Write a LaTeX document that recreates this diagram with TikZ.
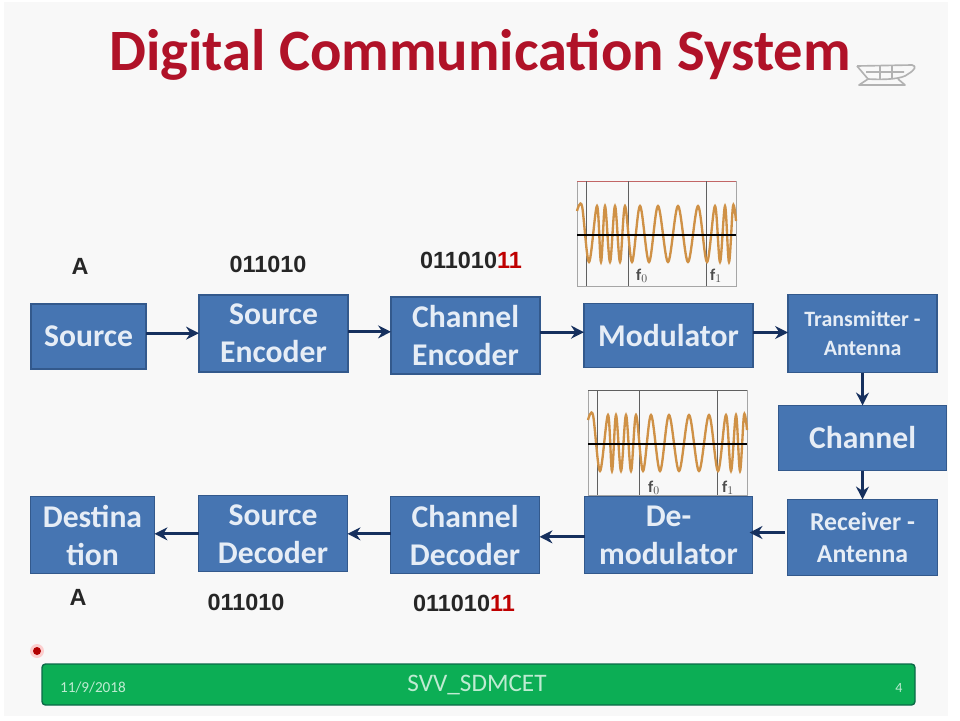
\documentclass[tikz,border=0pt]{standalone}
\usepackage{fontspec}
\setmainfont{Carlito}
\newfontfamily\digitfont{Liberation Sans}
\usetikzlibrary{arrows.meta, positioning}

\definecolor{boxblue}{HTML}{4675B2}
\definecolor{boxedge}{HTML}{33598C}
\definecolor{boxtext}{HTML}{E6EDF6}
\definecolor{arrownavy}{HTML}{16305E}
\definecolor{titlered}{HTML}{B01228}
\definecolor{barcolor}{HTML}{0CAE55}
\definecolor{baredge}{HTML}{0B6A48}
\definecolor{bartext}{HTML}{BFEBD2}
\definecolor{pagegray}{HTML}{F8F8F8}
\definecolor{waveorange}{HTML}{CF9146}

\begin{document}
\begin{tikzpicture}[
  x=0.03cm, y=-0.03cm,
  block/.style={rectangle, draw=boxedge, line width=1pt, fill=boxblue,
                text=boxtext, inner sep=0pt, outer sep=0pt, align=center,
                font=\fontsize{27}{32.5}\selectfont\bfseries},
  smallblock/.style={block, font=\fontsize{18.7}{25}\selectfont\bfseries},
  midblock/.style={block, font=\fontsize{22}{28}\selectfont\bfseries},
  bits/.style={font=\digitfont\fontsize{20}{22}\selectfont\bfseries, text=black!85},
  freqlabel/.style={font=\fontsize{14}{15}\selectfont\bfseries, text=black!70},
  arr/.style={-{Stealth[length=11pt, width=11pt]}, line width=2.7pt, draw=arrownavy},
  pics/fskwave/.style={code={
    \draw[gray!70, line width=0.6pt] (0,0) rectangle (159,105);
    \draw[#1, line width=0.8pt] (0,0) -- (159,0);
    \foreach \vx in {9,51,129}
      \draw[gray!75!black, line width=0.8pt] (\vx,0) -- (\vx,105);
    \draw[waveorange, line width=2pt] plot[smooth, tension=0.55] coordinates {
      (0,30) (5,25) (12,81) (20,25) (24,81) (28,25) (33,81) (38,25) (43,81) (48,25)
      (55,81) (63,25) (72,81) (81,25) (91,81) (101,25) (111,81) (121,25) (130,81)
      (138,25) (143,81) (148,25) (152,81) (156,25) (159,40)};
    \draw[black, line width=1.2pt] (0,54) -- (159,54);
  }},
]
  \useasboundingbox (0,0) rectangle (960,720);
  \fill[pagegray] (4,2) rectangle (948,716);

  \node[font=\fontsize{50}{60}\selectfont\bfseries, text=titlered] (title) at (480,55) {Digital Communication System};

  % top row
  \node[block, minimum width=3.45cm, minimum height=1.95cm] (src) at (88.5,336.5) {Source};
  \node[block, minimum width=4.47cm, minimum height=2.31cm, right=1.59cm of src, yshift=0.09cm] (srcenc) {Source\\Encoder};
  \node[block, minimum width=4.47cm, minimum height=2.31cm, right=1.29cm of srcenc, yshift=-0.06cm] (chnenc) {Channel\\Encoder};
  \node[block, minimum width=5.07cm, minimum height=1.92cm, right=1.32cm of chnenc] (mod) {Modulator};
  \node[smallblock, minimum width=4.47cm, minimum height=2.34cm, right=1.05cm of mod, yshift=0.06cm] (tx) {Transmitter -\\Antenna};

  % right column
  \node[block, minimum width=5.04cm, minimum height=1.95cm, below=0.99cm of tx] (chn) {Channel};
  \node[midblock, minimum width=4.50cm, minimum height=2.28cm, below=0.87cm of chn] (rx) {Receiver -\\Antenna};

  % bottom row
  \node[block, minimum width=5.04cm, minimum height=2.31cm, left=1.05cm of rx, yshift=0.07cm] (demod) {De-\\modulator};
  \node[block, minimum width=4.47cm, minimum height=2.31cm, left=1.35cm of demod] (chndec) {Channel\\Decoder};
  \node[block, minimum width=4.47cm, minimum height=2.28cm, left=1.29cm of chndec, yshift=0.04cm] (srcdec) {Source\\Decoder};
  \node[block, minimum width=3.72cm, minimum height=2.31cm, left=1.32cm of srcdec, yshift=-0.04cm] (dest) {Destina\\tion};

  \draw[arr] ([yshift=0.1cm]src.east) -- ([yshift=0.1cm]srcenc.west |- src.east);
  \draw[arr] ([yshift=0.05cm]srcenc.east) -- ([yshift=0.05cm]chnenc.west |- srcenc.east);
  \draw[arr] ([yshift=0.1cm]chnenc.east) -- ([yshift=0.1cm]mod.west |- chnenc.east);
  \draw[arr] ([yshift=0.09cm]mod.east) -- ([yshift=0.09cm]tx.west |- mod.east);
  \draw[arr] (tx.south) -- (chn.north);
  \draw[arr] (chn.south) -- (rx.north);
  \draw[arr] ([yshift=0.15cm, xshift=-0.09cm]rx.west) -- ([yshift=0.15cm, xshift=-0.09cm]demod.east |- rx.west);
  \draw[arr] ([yshift=-0.05cm]demod.west) -- ([yshift=-0.05cm]chndec.east |- demod.west);
  \draw[arr] ([yshift=0.04cm]chndec.west) -- ([yshift=0.04cm]srcdec.east |- chndec.west);
  \draw[arr] (srcdec.west) -- (dest.east |- srcdec.west);

  % bit labels
  \node[bits] (atop) at (80,266) {A};
  \node[bits] (bitsenc) at (268,264) {011010};
  \node[bits] (bitschn) at (471,260) {011010\textcolor{red!75!black}{11}};
  \node[bits] (abot) at (78,597) {A};
  \node[bits] (bitsdec) at (246,602) {011010};
  \node[bits] (bitsout) at (464,603) {011010\textcolor{red!75!black}{11}};

  % wave plots
  \pic at (577,181) {fskwave={red!60!black!60}};
  \pic at (588,390) {fskwave={gray!75!black}};
  \node[freqlabel] (fa) at (642,276) {f$_0$};
  \node[freqlabel] (fb) at (716,276) {f$_1$};
  \node[freqlabel] (fc) at (654,488) {f$_0$};
  \node[freqlabel] (fd) at (728,488) {f$_1$};

  % logo
  \draw[gray!60, line width=1.4pt, line join=round]
    (857,66) -- (912,65) .. controls (917,66) and (915,70) .. (908,74)
    .. controls (903,79) and (885,80) .. (868,79) -- (857,66)
    (868,79) -- (859,85) -- (905,85) -- (898,79)
    (880,66) -- (880,79) (892,66) -- (892,79) (866,72) -- (904,72);

  % footer
  \fill[red!30, opacity=0.6] (37,651) circle (7);
  \fill[red!70!black] (37,651) circle (4);
  \draw[baredge, fill=barcolor, line width=1.2pt, rounded corners=3pt] (42,664) rectangle (915,705);
  \node[font=\fontsize{13}{15}\selectfont, text=bartext] (date) at (93,688) {11/9/2018};
  \node[font=\fontsize{21.5}{24}\selectfont, text=bartext] (foot) at (477,685) {SVV\_SDMCET};
  \node[font=\fontsize{12}{14}\selectfont, text=bartext] (pageno) at (899,688) {4};
\end{tikzpicture}
\end{document}
